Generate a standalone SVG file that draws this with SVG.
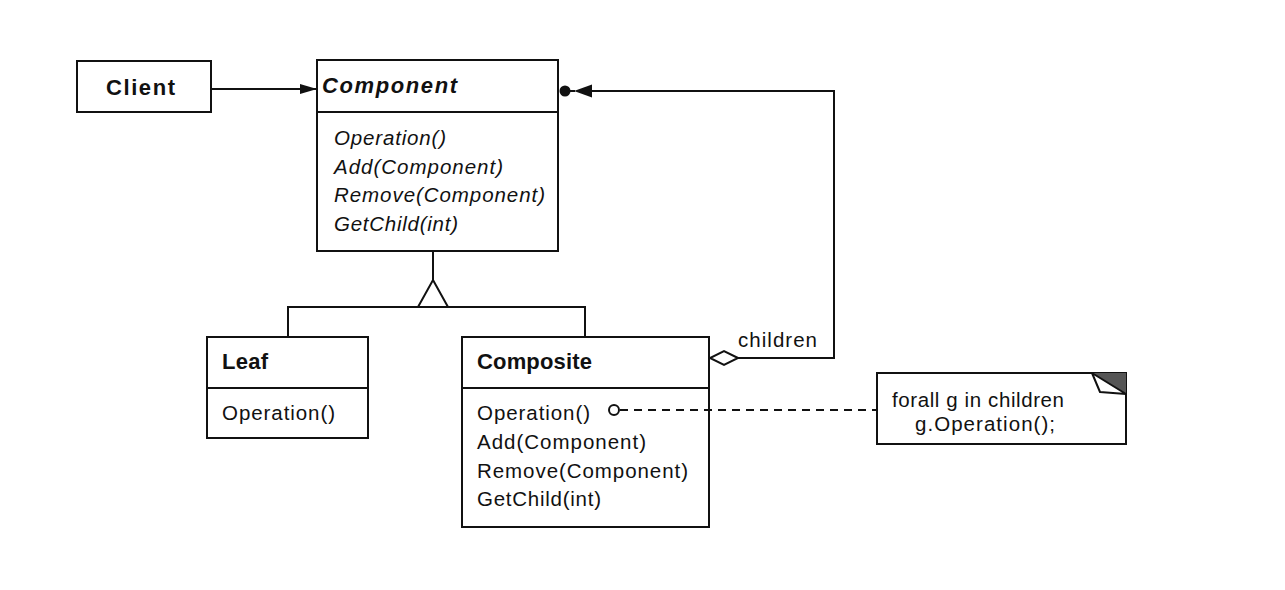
<svg xmlns="http://www.w3.org/2000/svg" width="1285" height="590" viewBox="0 0 1285 590">
<style>
.box{fill:#fff;stroke:#111;stroke-width:2}
.ln{fill:none;stroke:#111;stroke-width:2}
.t{font-family:"Liberation Sans",Arial,sans-serif;font-size:20.5px;fill:#111}
.b{font-weight:bold;font-size:22px}
.i{font-style:italic}
.dash{fill:none;stroke:#111;stroke-width:2;stroke-dasharray:8 6}
</style>
<defs>
<marker id="arr" markerWidth="18" markerHeight="12" refX="17" refY="6" orient="auto" markerUnits="userSpaceOnUse">
<path d="M0,1 L17,6 L0,11 Z" fill="#111"/>
</marker>
</defs>
<rect width="1285" height="590" fill="#fff"/>
<g id="client">
<rect class="box" x="77" y="61" width="134" height="51"/>
<text class="t b" x="106" y="95" textLength="69" lengthAdjust="spacing">Client</text>
</g>
<g id="component">
<rect class="box" x="317" y="60" width="241" height="191"/>
<path class="ln" d="M317,112 H558"/>
<text class="t b i" x="322" y="93" textLength="135" lengthAdjust="spacing">Component</text>
<text class="t i" x="334" y="145" textLength="112" lengthAdjust="spacing">Operation()</text>
<text class="t i" x="334" y="173.5" textLength="169" lengthAdjust="spacing">Add(Component)</text>
<text class="t i" x="334" y="202" textLength="211" lengthAdjust="spacing">Remove(Component)</text>
<text class="t i" x="334" y="230.5" textLength="124" lengthAdjust="spacing">GetChild(int)</text>
</g>
<g id="leaf">
<rect class="box" x="207" y="337" width="161" height="101"/>
<path class="ln" d="M207,388 H368"/>
<text class="t b" x="222" y="369" textLength="46" lengthAdjust="spacing">Leaf</text>
<text class="t" x="222" y="420" textLength="113" lengthAdjust="spacing">Operation()</text>
</g>
<g id="composite">
<rect class="box" x="462" y="337" width="247" height="190"/>
<path class="ln" d="M462,388 H709"/>
<text class="t b" x="477" y="369" textLength="115" lengthAdjust="spacing">Composite</text>
<text class="t" x="477" y="420" textLength="113" lengthAdjust="spacing">Operation()</text>
<text class="t" x="477" y="449" textLength="169" lengthAdjust="spacing">Add(Component)</text>
<text class="t" x="477" y="477.5" textLength="211" lengthAdjust="spacing">Remove(Component)</text>
<text class="t" x="477" y="506" textLength="124" lengthAdjust="spacing">GetChild(int)</text>
</g>
<g id="note">
<rect class="box" x="877" y="373" width="249" height="71"/>
<path d="M1092,373 H1126 V394 Z" fill="#555"/>
<path d="M1092,373 L1100,392 L1126,394 Z" fill="#fff" stroke="#111" stroke-width="2" stroke-linejoin="round"/>
<text class="t" x="892" y="407" textLength="172" lengthAdjust="spacing">forall g in children</text>
<text class="t" x="915" y="431" textLength="140" lengthAdjust="spacing">g.Operation();</text>
</g>
<g id="connectors">
<path class="ln" d="M211,89 H317" marker-end="url(#arr)"/>
<path class="ln" d="M433,251 V280"/>
<path class="ln" d="M288,337 V307 H585 V337"/>
<path d="M433,280 L448,307 L418,307 Z" fill="#fff" stroke="#111" stroke-width="2"/>
<path class="ln" d="M738,358 H834 V91 H590"/>
<path d="M738,358 L724,351 L710,358 L724,365 Z" fill="#fff" stroke="#111" stroke-width="2"/>
<circle cx="565" cy="91" r="5.5" fill="#111"/>
<path d="M574,91 L592,84.5 L592,97.5 Z" fill="#111"/>
<path class="ln" d="M565,91 H575"/>
<text class="t" x="738" y="347" textLength="79" lengthAdjust="spacing">children</text>
<path class="dash" d="M620,410 H877"/>
<circle cx="614" cy="410" r="5" fill="#fff" stroke="#111" stroke-width="2"/>
</g>
</svg>
